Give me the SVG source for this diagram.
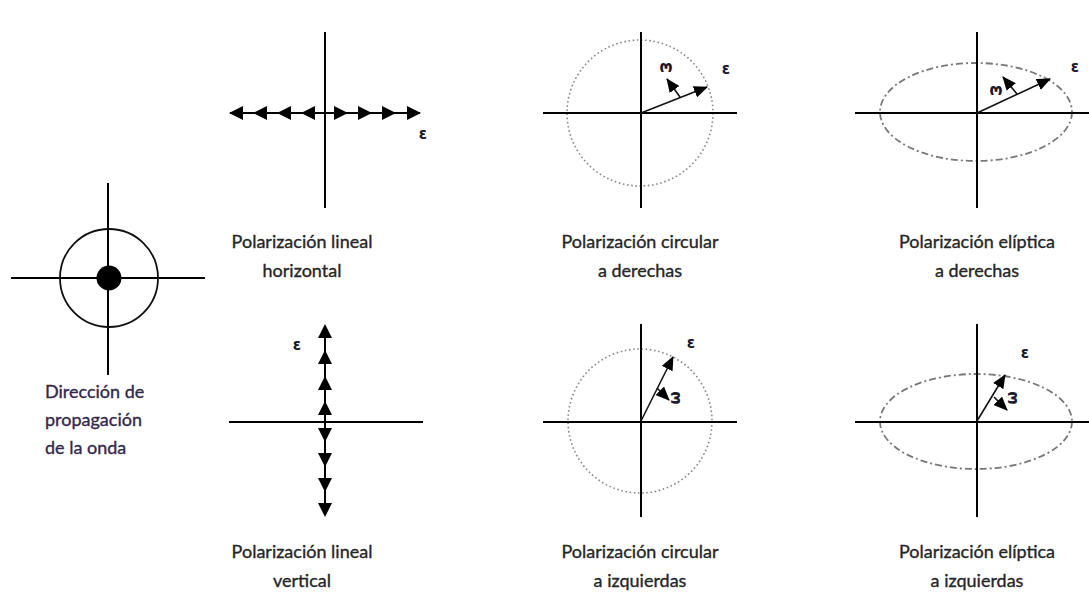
<svg xmlns="http://www.w3.org/2000/svg" width="1089" height="597" viewBox="0 0 1089 597">
<style>
.ax{stroke:#000;stroke-width:2;fill:none}
.vec{stroke:#111;stroke-width:1.6;fill:none}
.dot{stroke:#888;stroke-width:1.6;fill:none;stroke-dasharray:1.6 2.6}
.dd{stroke:#777;stroke-width:1.8;fill:none;stroke-dasharray:7 3 2 3}
.lbl{font-family:Lato,"Open Sans",sans-serif;font-size:18px;fill:#262626;stroke:#262626;stroke-width:0.35;text-anchor:middle}
.lft{font-family:Lato,"Open Sans",sans-serif;font-size:18px;fill:#34284a;stroke:#34284a;stroke-width:0.35}
.sym{font-family:"DejaVu Sans",sans-serif;font-size:15px;font-weight:bold;fill:#1a1a2e;text-anchor:middle}
</style>
<defs>
<marker id="ah" markerUnits="userSpaceOnUse" markerWidth="14" markerHeight="12" refX="13" refY="6" orient="auto" viewBox="0 0 14 12">
<path d="M0,0 L14,6 L0,12 Z" fill="#000"/>
</marker>
<path id="tri" d="M0,0 L-14,-7 L-14,7 Z" fill="#000"/>
</defs>
<rect width="1089" height="597" fill="#fff"/>

<g id="propagacion">
<line class="ax" x1="108" y1="183" x2="108" y2="375"/>
<line class="ax" x1="11" y1="278" x2="205" y2="278"/>
<circle cx="109" cy="278" r="49" fill="none" stroke="#111" stroke-width="1.8"/>
<circle cx="109" cy="278" r="12.5" fill="#000"/>
<text class="lft" x="45" y="398">Dirección de</text>
<text class="lft" x="45" y="426">propagación</text>
<text class="lft" x="45" y="454">de la onda</text>
</g>

<g id="lineal-horizontal">
<line class="ax" x1="325" y1="32" x2="325" y2="208"/>
<line class="ax" x1="230" y1="113" x2="420" y2="113"/>
<use href="#tri" transform="translate(229,113) rotate(180)"/>
<use href="#tri" transform="translate(253,113) rotate(180)"/>
<use href="#tri" transform="translate(277,113) rotate(180)"/>
<use href="#tri" transform="translate(301,113) rotate(180)"/>
<use href="#tri" transform="translate(348,113)"/>
<use href="#tri" transform="translate(372,113)"/>
<use href="#tri" transform="translate(396,113)"/>
<use href="#tri" transform="translate(421,113)"/>
<text class="sym" x="423" y="139">ε</text>
<text class="lbl" x="302" y="248">Polarización lineal</text>
<text class="lbl" x="302" y="277">horizontal</text>
</g>

<g id="lineal-vertical">
<line class="ax" x1="325" y1="326" x2="325" y2="515"/>
<line class="ax" x1="229" y1="422" x2="423" y2="422"/>
<use href="#tri" transform="translate(325,324) rotate(-90)"/>
<use href="#tri" transform="translate(325,350) rotate(-90)"/>
<use href="#tri" transform="translate(325,376) rotate(-90)"/>
<use href="#tri" transform="translate(325,401) rotate(-90)"/>
<use href="#tri" transform="translate(325,442) rotate(90)"/>
<use href="#tri" transform="translate(325,467) rotate(90)"/>
<use href="#tri" transform="translate(325,492) rotate(90)"/>
<use href="#tri" transform="translate(325,517) rotate(90)"/>
<text class="sym" x="297" y="350">ε</text>
<text class="lbl" x="302" y="558">Polarización lineal</text>
<text class="lbl" x="302" y="587">vertical</text>
</g>

<g id="circular-derechas">
<circle class="dot" cx="640" cy="113" r="73"/>
<line class="ax" x1="641" y1="32" x2="641" y2="208"/>
<line class="ax" x1="543" y1="113" x2="737" y2="113"/>
<text class="sym" transform="translate(666,63) rotate(180)">ω</text>
<text class="sym" x="726" y="74">ε</text>
<text class="lbl" x="640" y="248">Polarización circular</text>
<text class="lbl" x="640" y="277">a derechas</text>
</g>

<g id="circular-izquierdas">
<circle class="dot" cx="640" cy="421" r="72"/>
<line class="ax" x1="641" y1="324" x2="641" y2="517"/>
<line class="ax" x1="543" y1="422" x2="737" y2="422"/>
<text class="sym" transform="translate(680,398) rotate(-90)">ω</text>
<text class="sym" x="691" y="348">ε</text>
<text class="lbl" x="640" y="558">Polarización circular</text>
<text class="lbl" x="640" y="587">a izquierdas</text>
</g>

<g id="eliptica-derechas">
<ellipse class="dd" cx="976" cy="112" rx="96" ry="49"/>
<line class="ax" x1="977" y1="32" x2="977" y2="208"/>
<line class="ax" x1="855" y1="113" x2="1089" y2="113"/>
<text class="sym" transform="translate(996,86) rotate(180)">ω</text>
<text class="sym" x="1075" y="72">ε</text>
<text class="lbl" x="977" y="248">Polarización elíptica</text>
<text class="lbl" x="977" y="277">a derechas</text>
</g>

<g id="eliptica-izquierdas">
<ellipse class="dd" cx="976" cy="421.5" rx="96" ry="47.5"/>
<line class="ax" x1="977" y1="324" x2="977" y2="517"/>
<line class="ax" x1="855" y1="422" x2="1089" y2="422"/>
<text class="sym" transform="translate(1017,398) rotate(-90)">ω</text>
<text class="sym" x="1025" y="358">ε</text>
<text class="lbl" x="977" y="558">Polarización elíptica</text>
<text class="lbl" x="977" y="587">a izquierdas</text>
</g>

<g id="connectors">
<line class="vec" x1="641" y1="113" x2="707" y2="87" marker-end="url(#ah)"/>
<line class="vec" x1="680" y1="97" x2="667" y2="79" marker-end="url(#ah)"/>
<line class="vec" x1="641" y1="421" x2="673" y2="357" marker-end="url(#ah)"/>
<line class="vec" x1="657" y1="388" x2="669" y2="400" marker-end="url(#ah)"/>
<line class="vec" x1="977" y1="113" x2="1050" y2="79" marker-end="url(#ah)"/>
<line class="vec" x1="1017" y1="94" x2="1003" y2="77" marker-end="url(#ah)"/>
<line class="vec" x1="977" y1="421" x2="1005" y2="375" marker-end="url(#ah)"/>
<line class="vec" x1="994" y1="397" x2="1007" y2="410" marker-end="url(#ah)"/>
</g>
</svg>
